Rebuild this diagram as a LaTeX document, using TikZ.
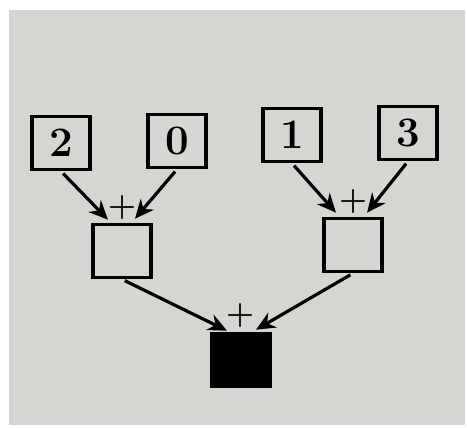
\documentclass[tikz,border=0pt]{standalone}
\usepackage{tikz}
\usetikzlibrary{arrows.meta}
\definecolor{paper}{RGB}{214,213,209}

\begin{document}
\begin{tikzpicture}[x=1pt, y=-1pt,
	numbox/.style = {draw, line width=3.6pt, minimum width=58pt, minimum height=53pt, inner sep=0pt, font=\fontsize{42}{44}\selectfont\bfseries},
	plus/.style = {inner sep=0pt, font=\fontsize{32}{34}\selectfont\bfseries},
	arr/.style = {line width=3.2pt, shorten <=3pt, -{Stealth[length=19pt, width=17pt]}}]
	\fill[white] (0,0) rectangle (467,428);
	\fill[paper] (9,10) rectangle (465,425);
	% the four numbers
	\node[numbox] (two) at (61,143) {2};
	\node[numbox] (zero) at (177,141) {0};
	\node[numbox] (one) at (292,135) {1};
	\node[numbox] (three) at (408,133) {3};
	% the sums
	\node[numbox] (suml) at (122,251) {};
	\node[numbox] (sumr) at (353,245) {};
	\node[numbox, fill=black] (total) at (241,360) {};
	\node[plus] (plusl) at (122,208) {+};
	\node[plus] (plusr) at (353,202) {+};
	\node[plus] (plustot) at (240,316) {+};
	\draw[arr] (two.south) -- ([xshift=-14pt, yshift=3pt]suml.north);
	\draw[arr] (zero.south) -- ([xshift=13pt, yshift=4pt]suml.north);
	\draw[arr] (one.south) -- ([xshift=-17pt, yshift=4pt]sumr.north);
	\draw[arr] (three.south) -- ([xshift=14pt, yshift=4pt]sumr.north);
	\draw[arr] (suml.south) -- ([xshift=-14pt, yshift=1pt]total.north);
	\draw[arr] (sumr.south) -- ([xshift=15pt, yshift=2pt]total.north);
\end{tikzpicture}
\end{document}
